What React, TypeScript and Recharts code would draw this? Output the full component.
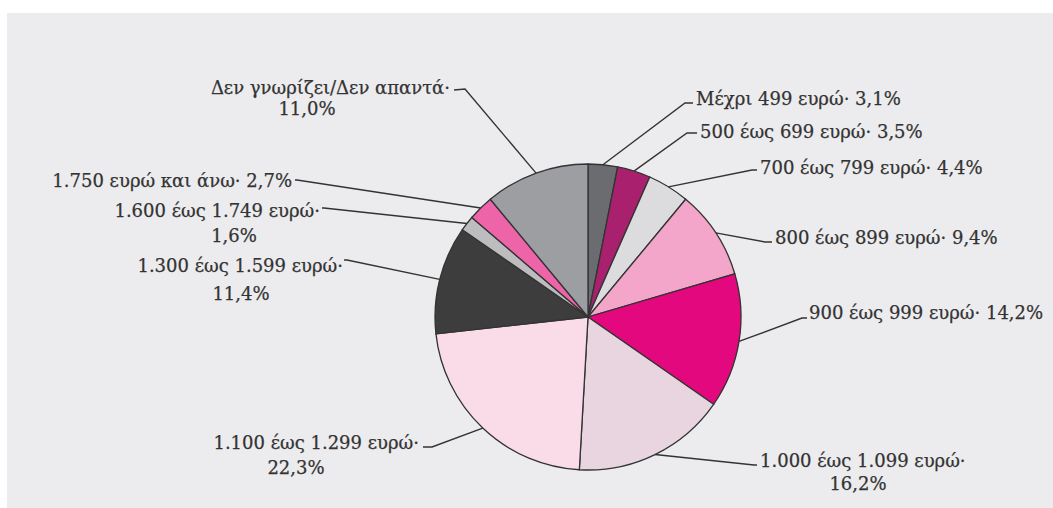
import { Cell, Pie, PieChart } from 'recharts'

const categories = [
  'Μέχρι 499 ευρώ',
  '500 έως 699 ευρώ',
  '700 έως 799 ευρώ',
  '800 έως 899 ευρώ',
  '900 έως 999 ευρώ',
  '1.000 έως 1.099 ευρώ',
  '1.100 έως 1.299 ευρώ',
  '1.300 έως 1.599 ευρώ',
  '1.600 έως 1.749 ευρώ',
  '1.750 ευρώ και άνω',
  'Δεν γνωρίζει/Δεν απαντά',
]
const shares = [3.1, 3.5, 4.4, 9.4, 14.2, 16.2, 22.3, 11.4, 1.6, 2.7, 11.0]
// label split: true = percentage goes on its own second line
const twoLine = [false, false, false, false, false, true, true, true, true, false, true]

const colors = [
  '#6b6c6f', '#a8206e', '#dcdcde', '#f3a6c9', '#e4087f', '#e9d5df',
  '#f9dce8', '#3d3d3e', '#bdbdbf', '#ee64a8', '#9d9ea2',
]

// leader/label placement relative to pie centre
// e = elbow of leader, t = end of short tick, l1 = first text line, l2 = second line centre
const layout = [
  { e: [97, -214], t: [105, -214], l1: [108, -219], l2: null },
  { e: [99, -184], t: [109, -184], l1: [112, -186], l2: null },
  { e: [164, -147], t: [169, -147], l1: [172, -150], l2: null },
  { e: [177, -75], t: [184, -75], l1: [187, -80], l2: null },
  { e: [214, 1], t: [219, 1], l1: [221, -5], l2: null },
  { e: [166, 148], t: [169, 148], l1: [172, 143], l2: [270, 166] },
  { e: [-156, 130], t: [-165, 130], l1: [-169, 125], l2: [-292, 150] },
  { e: [-241, -57], t: [-244, -57], l1: [-245, -52], l2: [-347, -24] },
  { e: [-264, -109], t: [-266, -109], l1: [-268, -107], l2: [-354, -82] },
  { e: [-291, -137], t: [-293, -137], l1: [-296, -137], l2: null },
  { e: [-123, -228], t: [-134, -227], l1: [-138, -230], l2: [-281, -209] },
]

const data = categories.map((name, i) => ({ name, value: shares[i] }))
const RAD = Math.PI / 180
const fmt = (v: number) => v.toFixed(1).replace('.', ',') + '%'

const textStyle = { fontFamily: '"DejaVu Serif", serif', fontSize: 18, fill: '#333', stroke: '#333', strokeWidth: 0.25 }

function renderLabel(props: any) {
  const { cx, cy, midAngle, outerRadius, index } = props
  const L = layout[index]
  const sx = cx + outerRadius * Math.cos(-midAngle * RAD)
  const sy = cy + outerRadius * Math.sin(-midAngle * RAD)
  const right = L.l1[0] > 0
  const pct = fmt(shares[index])
  const first = twoLine[index] ? categories[index] + '·' : categories[index] + '· ' + pct
  return (
    <g key={'lbl' + index}>
      <polyline
        points={`${sx},${sy} ${cx + L.e[0]},${cy + L.e[1]} ${cx + L.t[0]},${cy + L.t[1]}`}
        fill="none"
        stroke="#333"
        strokeWidth={1.4}
      />
      <text
        x={cx + L.l1[0]}
        y={cy + L.l1[1]}
        textAnchor={right ? 'start' : 'end'}
        dominantBaseline="central"
        style={textStyle}
      >
        {first}
      </text>
      {L.l2 && (
        <text
          x={cx + L.l2[0]}
          y={cy + L.l2[1]}
          textAnchor="middle"
          dominantBaseline="central"
          style={textStyle}
        >
          {pct}
        </text>
      )}
    </g>
  )
}

export default function App() {
  return (
    <div style={{ position: 'absolute', left: 0, top: 0, width: 1053, height: 508, background: '#fff', overflow: 'hidden' }}>
      <div style={{ position: 'absolute', left: 7, top: 13, right: 0, bottom: 0, background: '#ececee' }} />
      <div style={{ position: 'absolute', left: 0, top: 0 }}>
        <PieChart width={1053} height={508}>
          <Pie
            data={data}
            dataKey="value"
            cx={583}
            cy={312}
            outerRadius={153}
            startAngle={90}
            endAngle={-270}
            stroke="#333"
            strokeWidth={1.3}
            label={renderLabel}
            labelLine={false}
            isAnimationActive={false}
          >
            {data.map((d, i) => (
              <Cell key={d.name} fill={colors[i]} />
            ))}
          </Pie>
        </PieChart>
      </div>
    </div>
  )
}
